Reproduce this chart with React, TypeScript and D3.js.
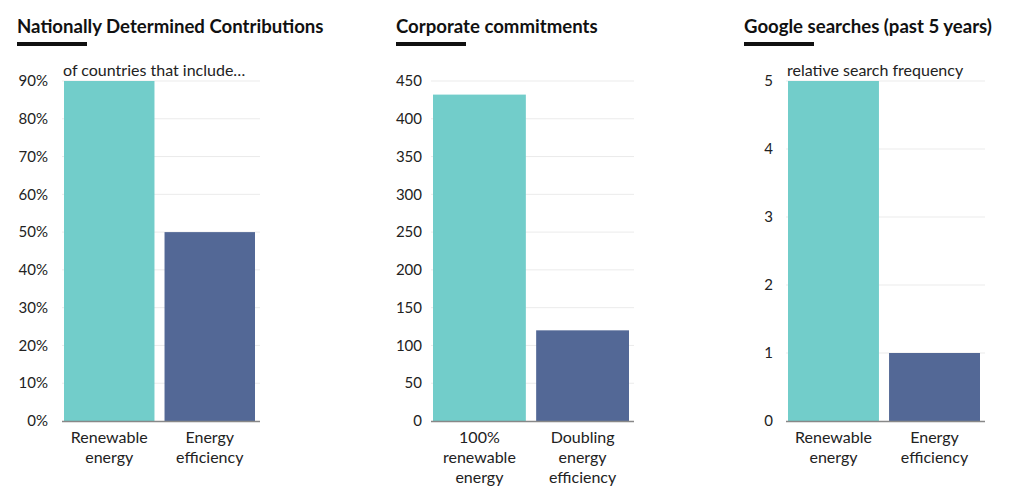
import { useEffect, useRef } from 'react';
import * as d3 from 'd3';

// panel 1: NDCs
const ndcCategories = ['Renewable|energy', 'Energy|efficiency'];
const ndcValues = [90, 50];
const ndcTicks = [0, 10, 20, 30, 40, 50, 60, 70, 80, 90];

// panel 2: corporate commitments
const corpCategories = ['100%|renewable|energy', 'Doubling|energy|efficiency'];
const corpValues = [432, 120];
const corpTicks = [0, 50, 100, 150, 200, 250, 300, 350, 400, 450];

// panel 3: google searches
const searchCategories = ['Renewable|energy', 'Energy|efficiency'];
const searchValues = [5, 1];
const searchTicks = [0, 1, 2, 3, 4, 5];

const colors = ['#72cdca', '#536896'];
const FONT = 'Lato, "Open Sans", sans-serif';

type PanelProps = {
  x: number;
  title: string;
  subtitle?: string;
  categories: string[];
  values: number[];
  ticks: number[];
  fmt: (v: number) => string;
  labelX: number;
  plotLeft: number;
  plotRight: number;
};

function Panel(p: PanelProps) {
  const ref = useRef<SVGGElement>(null);

  useEffect(() => {
    const g = d3.select(ref.current);
    g.selectAll('*').remove();

    const top = 81;
    const bottom = 421;
    const maxTick = d3.max(p.ticks) as number;

    const y = d3.scaleLinear().domain([0, maxTick]).range([bottom, top]);
    const x = d3.scaleBand<string>()
      .domain(p.categories)
      .range([p.plotLeft + 2, p.plotRight - 5])
      .paddingInner(0.1)
      .paddingOuter(0);

    // title + underline
    g.append('text')
      .attr('x', p.x)
      .attr('y', 33)
      .attr('font-family', FONT)
      .attr('font-weight', 'bold')
      .attr('font-size', 18.6)
      .attr('fill', '#111')
      .text(p.title);
    g.append('rect')
      .attr('x', p.x)
      .attr('y', 42)
      .attr('width', 70)
      .attr('height', 4)
      .attr('fill', '#111');

    // grid lines
    g.append('g')
      .selectAll('line')
      .data(p.ticks.filter(t => t > 0))
      .join('line')
      .attr('x1', p.plotLeft).attr('x2', p.plotRight)
      .attr('y1', d => y(d)).attr('y2', d => y(d))
      .attr('stroke', '#ebebeb')
      .attr('stroke-width', 1);

    // y tick labels
    g.append('g')
      .selectAll('text')
      .data(p.ticks)
      .join('text')
      .attr('x', p.labelX)
      .attr('y', d => y(d))
      .attr('dy', '0.35em')
      .attr('text-anchor', 'end')
      .attr('font-family', FONT)
      .attr('font-size', 15)
      .attr('fill', '#222')
      .text(d => p.fmt(d));

    // bars
    g.append('g')
      .selectAll('rect')
      .data(p.values)
      .join('rect')
      .attr('x', (_, i) => x(p.categories[i]) as number)
      .attr('width', x.bandwidth())
      .attr('y', d => y(d))
      .attr('height', d => bottom - y(d))
      .attr('fill', (_, i) => colors[i]);

    // baseline
    g.append('line')
      .attr('x1', p.plotLeft).attr('x2', p.plotRight)
      .attr('y1', bottom + 0.5).attr('y2', bottom + 0.5)
      .attr('stroke', '#888')
      .attr('stroke-width', 1.5);

    // subtitle
    if (p.subtitle) {
      g.append('text')
        .attr('x', p.plotLeft + 1)
        .attr('y', 76)
        .attr('font-family', FONT)
        .attr('font-size', 16)
        .attr('fill', '#222')
        .text(p.subtitle);
    }

    // category labels
    const cat = g.append('g')
      .selectAll('text')
      .data(p.categories)
      .join('text')
      .attr('x', d => (x(d) as number) + x.bandwidth() / 2)
      .attr('y', 443)
      .attr('text-anchor', 'middle')
      .attr('font-family', FONT)
      .attr('font-size', 16)
      .attr('fill', '#222');
    cat.selectAll('tspan')
      .data(d => d.split('|'))
      .join('tspan')
      .attr('x', function () {
        return (this.parentNode as SVGTextElement).getAttribute('x');
      })
      .attr('dy', (_, i) => (i === 0 ? 0 : 20))
      .text(d => d);
  }, [p]);

  return <g ref={ref} />;
}

export default function App() {
  return (
    <svg width={1024} height={500} style={{ display: 'block', position: 'absolute', left: 0, top: 0, background: '#fff' }}>
      <Panel
        x={17}
        title="Nationally Determined Contributions"
        subtitle="of countries that include…"
        categories={ndcCategories}
        values={ndcValues}
        ticks={ndcTicks}
        fmt={v => `${v}%`}
        labelX={48}
        plotLeft={62}
        plotRight={260}
      />
      <Panel
        x={396}
        title="Corporate commitments"
        categories={corpCategories}
        values={corpValues}
        ticks={corpTicks}
        fmt={v => `${v}`}
        labelX={422}
        plotLeft={431}
        plotRight={634}
      />
      <Panel
        x={744}
        title="Google searches (past 5 years)"
        subtitle="relative search frequency"
        categories={searchCategories}
        values={searchValues}
        ticks={searchTicks}
        fmt={v => `${v}`}
        labelX={773}
        plotLeft={786}
        plotRight={985}
      />
    </svg>
  );
}
